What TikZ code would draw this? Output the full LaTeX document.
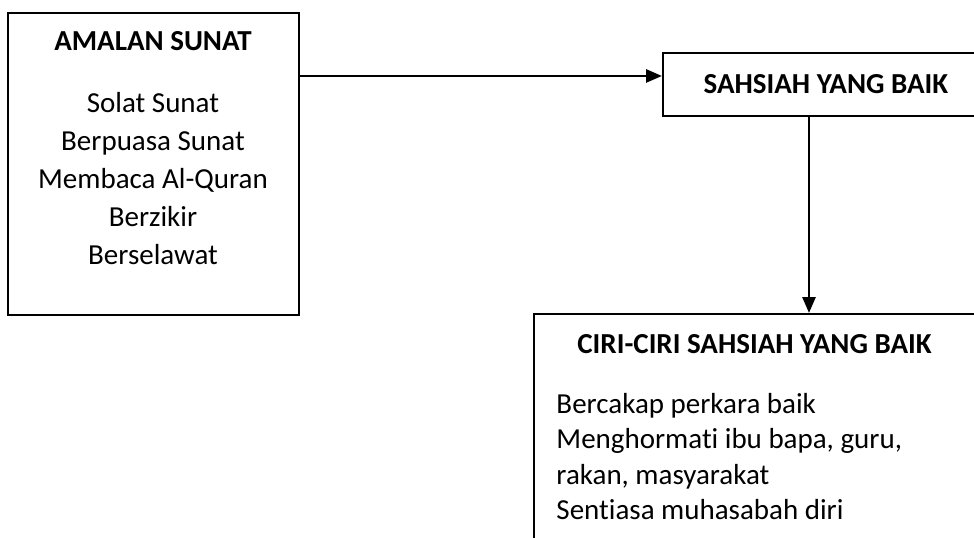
\documentclass[tikz,border=0pt]{standalone}
\usepackage{fontspec}
\setmainfont{Carlito}[Ligatures=NoCommon]
\usetikzlibrary{arrows.meta, positioning, calc}

\tikzset{
  boxnode/.style={draw, line width=0.8pt, inner sep=0pt},
  titletext/.style={font=\fontsize{11}{13.4}\selectfont\bfseries, anchor=base, inner sep=0pt},
  bodytext/.style={font=\fontsize{11}{14.4}\selectfont, anchor=base, inner sep=0pt},
  arrowline/.style={line width=0.8pt, -{Triangle[length=6pt, width=5pt]}}
}

\begin{document}
\begin{tikzpicture}
        \useasboundingbox (0,0) rectangle (12.987,7.173);
        \clip (0,0) rectangle (12.987,7.173);
        % Boxes
        \node[boxnode, minimum width=3.88cm, minimum height=4.027cm] (amalan) at (2.047,4.987) {};
        \node[boxnode, minimum width=4.347cm, minimum height=0.84cm] (sahsiah) at (11.013,6.047) {};
        \node[boxnode, minimum width=5.88cm, minimum height=3.487cm] (ciri) at (10.06,1.2435) {};
        % Texts (multi-line nodes sit on their last line)
        \node[titletext] (amalantitle) at (2.04,6.493) {AMALAN SUNAT};
        \node[bodytext, align=center] (amalanlist) at (2.04,3.649) {Solat Sunat\\Berpuasa Sunat\\Membaca Al-Quran\\Berzikir\\Berselawat};
        \node[titletext] (sahsiahtitle) at (11.013,5.929) {SAHSIAH YANG BAIK};
        \node[titletext] (cirititle) at (10.06,2.463) {CIRI-CIRI SAHSIAH YANG BAIK};
        \node[bodytext, align=left, anchor=base west, font=\fontsize{11}{13.5}\selectfont] (cirilist) at (7.413,0.24) {Bercakap perkara baik\\Menghormati ibu bapa, guru,\\rakan, masyarakat\\Sentiasa muhasabah diri};
        % Arrows
        \coordinate (inpoint) at ($(sahsiah.west)+(0,0.113)$);
        \draw[arrowline] (amalan.east |- inpoint) -- (inpoint);
        \coordinate (downpoint) at ($(sahsiah.south)+(-0.226,0)$);
        \draw[arrowline] (downpoint) -- (downpoint |- ciri.north);
    \end{tikzpicture}
\end{document}
